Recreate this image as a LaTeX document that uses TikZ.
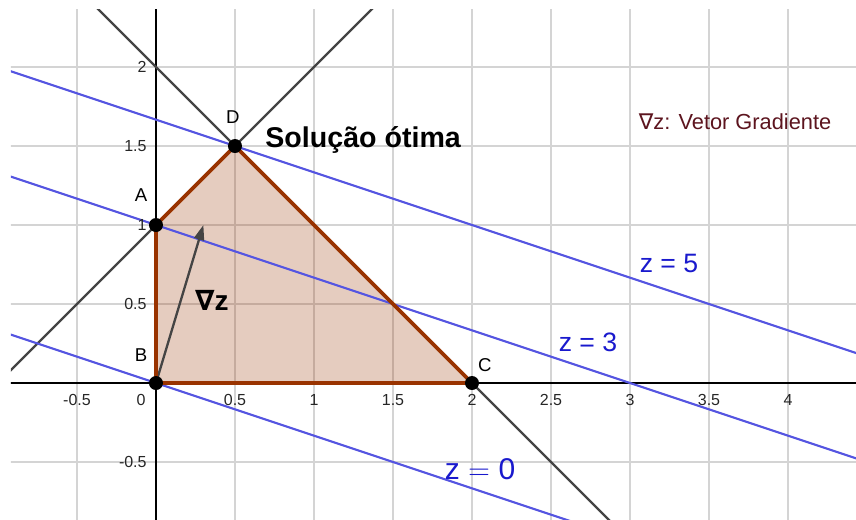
\documentclass[tikz,border=0pt]{standalone}
\usepackage{fontspec}
\setmainfont{Liberation Sans}
\newfontfamily\dvs{DejaVu Sans}
\usetikzlibrary{arrows.meta}
\definecolor{gridc}{RGB}{212,212,212}
\definecolor{gline}{RGB}{68,68,68}
\definecolor{zline}{RGB}{85,85,225}
\definecolor{ztext}{RGB}{25,25,205}
\definecolor{regc}{RGB}{153,51,0}
\definecolor{legc}{RGB}{92,20,30}

\begin{document}
\begin{tikzpicture}[x=79pt,y=79pt,>={Triangle[length=7.5pt,width=5pt]},
  tk/.style={font=\fontsize{8}{9}\selectfont,text=black!85,inner sep=0pt},
  pt/.style={circle,fill=black,inner sep=0pt,minimum size=7pt},
  lb/.style={font=\fontsize{9.3}{10}\selectfont,inner sep=0pt},
  zl/.style={font=\fontsize{13.3}{14}\selectfont,text=ztext,inner sep=0pt}]
  \useasboundingbox (-0.9873,-0.8608) rectangle (4.4304,2.4241);
  \begin{scope}
    \clip (-0.9177,-0.8608) rectangle (4.4304,2.3671);
    \foreach \x in {-0.5,0,...,4} \draw[gridc,line width=0.7pt] (\x,-1) -- (\x,2.5);
    \foreach \y in {-0.5,0,...,2} \draw[gridc,line width=0.7pt] (-1,\y) -- (4.5,\y);
    \fill[regc,opacity=.25] (0,0) -- (0,1) -- (0.5,1.5) -- (2,0) -- cycle;
    \draw[black,line width=1.3pt] (-1,0) -- (4.5,0);
    \draw[black,line width=1.3pt] (0,-1) -- (0,2.5);
    \draw[gline,line width=1.15pt] (-0.5,2.5) -- (3,-1);
    \draw[gline,line width=1.15pt] (-1,0) -- (1.5,2.5);
    \draw[zline,line width=1.05pt] (-1,2) -- (4.5,1/6);
    \draw[zline,line width=1.05pt] (-1,4/3) -- (4.5,-0.5);
    \draw[zline,line width=1.05pt] (-1,1/3) -- (3,-1);
  \end{scope}
  \foreach \x in {-0.5,0.5,1,...,4} \node[tk] at (\x,-0.108) {\x};
  \node[tk] at (-0.095,-0.108) {0};
  \foreach \y in {-0.5,0.5,1,1.5,2} \node[tk,anchor=east] at (-0.057,\y) {\y};
  \coordinate (g) at (0.3,1);
  \draw[->,gline,line width=1.15pt] (0,0) -- (g);
  \draw[regc,line width=1.8pt,line join=round] (0,0) -- (0,1) -- (0.5,1.5) -- (2,0) -- cycle;
  \node[pt] (A) at (0,1) {};
  \node[pt] (B) at (0,0) {};
  \node[pt] (C) at (2,0) {};
  \node[pt] (D) at (0.5,1.5) {};
  \node[lb] (lA) at (-0.095,1.19) {A};
  \node[lb] (lB) at (-0.095,0.177) {B};
  \node[lb] (lC) at (2.082,0.114) {C};
  \node[lb] (lD) at (0.487,1.684) {D};
  \node[anchor=west,inner sep=0pt,font=\fontsize{14.3}{15}\selectfont\bfseries] (sol) at (0.69,1.538) {Solução ótima};
  \node[inner sep=0pt,text=legc,font=\fontsize{10.9}{12}\selectfont] (leg) at (3.665,1.652) {{\dvs ∇}z: Vetor Gradiente};
  \node[inner sep=0pt,font=\fontsize{14}{15}\selectfont\bfseries] (nz) at (0.354,0.525) {{\dvs\bfseries ∇}z};
  \node[zl] (z5) at (3.247,0.759) {z = 5};
  \node[zl] (z3) at (2.734,0.259) {z = 3};
  \node[zl,font=\fontsize{15}{16}\selectfont] (z0) at (2.051,-0.544) {z~$=$~0};
\end{tikzpicture}
\end{document}
